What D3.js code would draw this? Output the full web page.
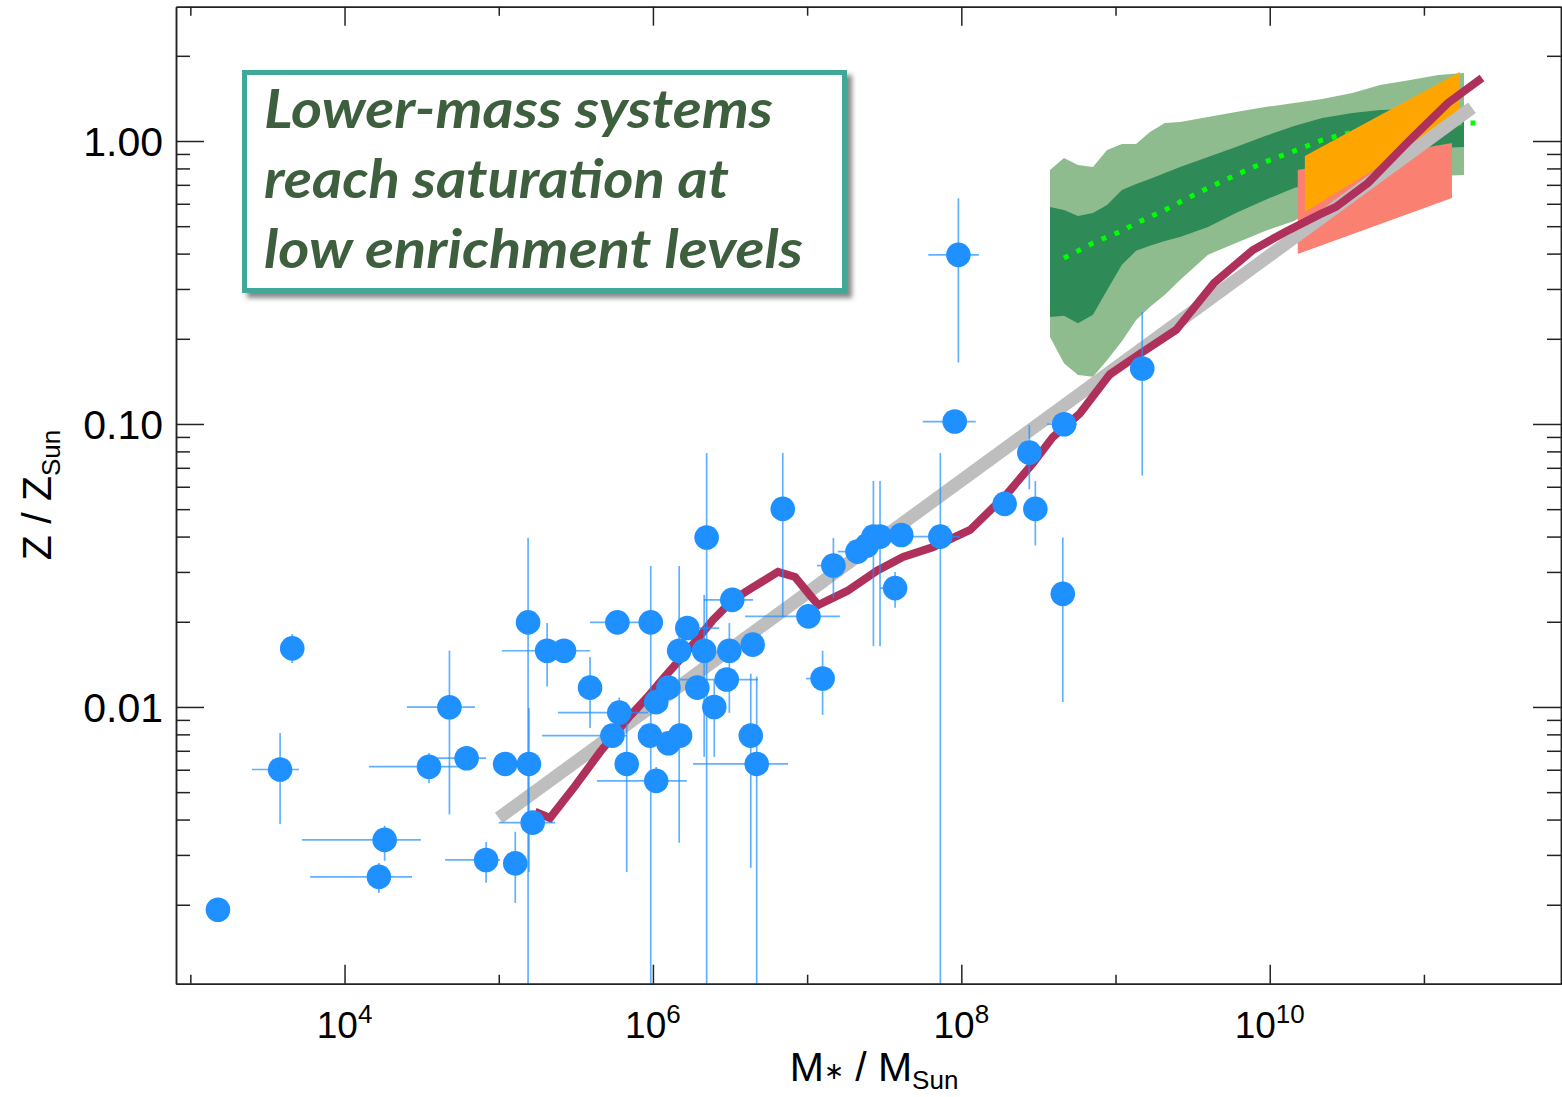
<!DOCTYPE html>
<html><head><meta charset="utf-8">
<script src="https://cdn.jsdelivr.net/npm/d3@7"></script>
<style>body{margin:0;background:#fff} svg{display:block}</style>
</head><body>
<svg id="chart" width="1562" height="1097"></svg>
<script>
// ---------- data ----------
const massObs = [1.51e3,3.82e3,4.58e3,1.67e4,1.82e4,3.53e4,4.79e4,6.19e4,8.28e4,1.10e5,1.28e5,1.55e5,1.57e5,1.66e5,2.06e5,2.65e5,3.91e5,5.46e5,5.88e5,6.05e5,6.76e5,9.57e5,9.68e5,1.05e6,1.05e6,1.26e6,1.26e6,1.48e6,1.50e6,1.67e6,1.94e6,2.15e6,2.50e6,3.01e6,3.13e6,3.27e6,4.31e6,4.44e6,4.71e6,2.23e6,6.95e6,1.02e7,1.26e7,1.48e7,2.12e7,2.44e7,2.69e7,2.97e7,3.72e7,4.08e7,7.31e7,9.06e7,9.57e7,1.91e8,2.76e8,3.02e8,4.55e8,4.64e8,1.49e9];
const zObs = [0.00192,0.00601,0.0161,0.00251,0.00339,0.00615,0.00998,0.00659,0.00288,0.00629,0.00280,0.0199,0.00629,0.00390,0.0158,0.0158,0.0117,0.00792,0.0199,0.00955,0.00629,0.00792,0.0199,0.0104,0.00548,0.00744,0.0117,0.0158,0.00792,0.0190,0.0117,0.0158,0.0100,0.0125,0.0158,0.0239,0.00792,0.0166,0.00629,0.0397,0.0501,0.0209,0.0126,0.0316,0.0354,0.0372,0.0400,0.0400,0.0263,0.0405,0.0400,0.102,0.396,0.0522,0.0792,0.0501,0.0251,0.0998,0.157];
const massLoObs = [null,2.51e3,null,5.98e3,5.30e3,1.44e4,2.54e4,3.98e4,4.49e4,null,null,null,null,1.00e5,1.05e5,null,null,1.91e5,3.91e5,2.42e5,null,null,null,null,4.34e5,null,null,null,null,1.44e6,null,null,null,1.50e6,null,2.14e6,null,null,1.82e6,null,null,3.96e6,9.85e6,1.16e7,1.58e7,null,null,null,2.97e7,null,4.87e7,5.62e7,6.11e7,null,null,null,null,3.60e8,null];
const massHiObs = [null,5.07e3,null,2.74e4,3.13e4,5.61e4,7.02e4,8.28e4,1.02e5,null,null,null,null,2.32e5,3.91e5,null,null,6.79e5,9.57e5,9.29e5,null,null,null,null,1.66e6,null,null,null,null,2.69e6,null,null,null,4.81e6,null,4.46e6,null,null,7.52e6,null,null,1.63e7,1.47e7,1.76e7,2.50e7,null,null,null,4.00e7,null,9.82e7,1.24e8,1.30e8,null,null,null,null,5.62e8,null];
const zLoObs = [null,0.00386,0.0143,0.00220,0.00286,0.00538,0.00417,null,0.00239,null,0.00203,0.0005,0.00261,null,0.0118,null,0.00843,null,null,0.00850,0.00261,null,0.0005,null,0.00497,null,null,0.00331,null,null,null,0.00666,0.00666,null,0.00953,null,0.00270,null,0.0005,0.0005,0.0208,null,0.00937,0.0243,null,null,0.0164,0.0164,0.0224,null,0.0005,null,0.165,null,0.0588,0.0372,0.0104,null,0.0657];
const zHiObs = [null,0.00809,0.0181,0.00281,0.00380,0.00687,0.0158,null,0.00333,null,0.00362,0.0396,0.00991,null,0.0198,null,0.0150,null,null,0.0108,0.00878,null,0.0315,null,0.00614,null,null,0.0315,null,null,null,0.0249,0.0125,null,0.0198,null,0.0131,null,0.0128,0.0790,0.0790,null,0.0158,0.0396,null,null,0.0629,0.0629,0.0300,null,0.0790,null,0.627,null,0.0992,0.0629,0.0397,null,0.249];

// simulation band (mass grid, 1 and 2 sigma envelopes)
const bandMass = [3.76e8,4.63e8,5.71e8,7.14e8,8.81e8,1.10e9,1.36e9,1.67e9,2.09e9,2.62e9,3.98e9,6.04e9,9.33e9,1.44e10,2.19e10,3.43e10,5.20e10,8.15e10,1.24e11,1.82e11];
const lightHi = [0.790,0.871,0.823,0.809,0.929,0.976,0.976,1.076,1.158,1.167,1.216,1.266,1.318,1.362,1.407,1.478,1.577,1.643,1.711,1.739];
const darkHi  = [0.585,0.570,0.543,0.557,0.594,0.671,0.705,0.734,0.771,0.809,0.878,0.952,1.041,1.130,1.206,1.256,1.287,1.297,1.266,1.256];
const darkLo  = [0.239,0.241,0.227,0.243,0.297,0.365,0.409,0.426,0.443,0.458,0.497,0.557,0.619,0.682,0.728,0.790,0.857,0.907,0.945,0.952];
const lightLo = [0.203,0.164,0.149,0.147,0.168,0.196,0.233,0.259,0.286,0.323,0.396,0.436,0.481,0.522,0.604,0.660,0.699,0.734,0.752,0.759];
const medMass = [4.63e8,5.71e8,7.14e8,8.81e8,1.10e9,1.36e9,1.67e9,2.09e9,2.62e9,3.98e9,6.04e9,9.33e9,1.44e10,2.19e10,3.43e10,5.20e10,8.15e10,1.24e11,1.82e11,2.38e11];
const medZ    = [0.386,0.409,0.436,0.458,0.481,0.513,0.539,0.570,0.609,0.682,0.759,0.843,0.922,1.008,1.076,1.111,1.130,1.148,1.158,1.158];

// model relation (red) and fit (grey)
const modelMass = [1.72e5,2.15e5,3.13e5,4.54e5,7.10e5,9.16e5,1.15e6,1.43e6,1.93e6,2.45e6,3.30e6,4.46e6,6.47e6,8.35e6,1.04e7,1.18e7,1.82e7,2.84e7,4.19e7,6.55e7,1.14e8,1.98e8,2.92e8,3.93e8,5.87e8,9.20e8,1.44e9,2.47e9,4.35e9,7.78e9,1.26e10,2.08e10,2.69e10,4.34e10,8.12e10,1.43e11,2.38e11];
const modelZ    = [0.00426,0.00405,0.00526,0.00693,0.00929,0.0108,0.0125,0.0143,0.0173,0.0203,0.0239,0.0265,0.0300,0.0288,0.0249,0.0229,0.0257,0.0303,0.0339,0.0367,0.0422,0.0566,0.0728,0.0900,0.109,0.150,0.177,0.215,0.315,0.412,0.477,0.548,0.585,0.711,1.008,1.362,1.670];
const fitMass = [1.0e5, 2.05e11];
const fitZ    = [0.00405, 1.31];

// observational boxes at high mass
const orangeMass = [1.69e10, 1.71e11];
const orangeLo   = [0.561, 1.216];
const orangeHi   = [0.885, 1.754];
const salmonMass = [1.52e10, 1.52e11];
const salmonLo   = [0.399, 0.629];
const salmonHi   = [0.790, 0.984];

// axis ticks
const xMajor = [1e4,1e6,1e8,1e10];
const xMajorExp = ["4","6","8","10"];
const xMinor = [1e3,1e5,1e7,1e9,1e11];
const yMajor = [0.01,0.1,1];
const yMajorLabels = ["0.01","0.10","1.00"];
const yMinor = [0.002,0.003,0.004,0.005,0.006,0.007,0.008,0.009,0.02,0.03,0.04,0.05,0.06,0.07,0.08,0.09,0.2,0.3,0.4,0.5,0.6,0.7,0.8,0.9,2];

const noteLines = ["Lower-mass systems","reach saturation at","low enrichment levels"];

// ---------- layout ----------
const P = {left:176, right:1561, top:6.7, bottom:983.7};
const svg = d3.select("#chart");
const x = d3.scaleLog().domain([Math.pow(10,2.907), Math.pow(10,11.889)]).range([P.left, P.right]);
const y = d3.scaleLog().domain([Math.pow(10,-2.978), Math.pow(10,0.4746)]).range([P.bottom, P.top]);

const defs = svg.append("defs");
defs.append("clipPath").attr("id","clip").append("rect")
  .attr("x",P.left).attr("y",P.top).attr("width",P.right-P.left).attr("height",P.bottom-P.top);
const f = defs.append("filter").attr("id","shadow").attr("x","-10%").attr("y","-10%").attr("width","130%").attr("height","130%");
f.append("feDropShadow").attr("dx",5).attr("dy",5).attr("stdDeviation",2.5).attr("flood-color","#555").attr("flood-opacity",0.7);

const g = svg.append("g").attr("clip-path","url(#clip)");
const idx = d3.range(bandMass.length);

const areaLight = d3.area().x(i=>x(bandMass[i])).y0(i=>y(lightLo[i])).y1(i=>y(lightHi[i]));
const areaDark  = d3.area().x(i=>x(bandMass[i])).y0(i=>y(darkLo[i])).y1(i=>y(darkHi[i]));
g.append("path").attr("d",areaLight(idx)).attr("fill","#8fbc8f");
g.append("path").attr("d",areaDark(idx)).attr("fill","#2e8b57");

g.append("path").attr("d", d3.line().x(i=>x(medMass[i])).y(i=>y(medZ[i]))(d3.range(medMass.length)))
  .attr("fill","none").attr("stroke","#00ff00").attr("stroke-width",5).attr("stroke-dasharray","5,9");

function quad(m, lo, hi){
  return d3.line()([[x(m[0]),y(lo[0])],[x(m[1]),y(lo[1])],[x(m[1]),y(hi[1])],[x(m[0]),y(hi[0])]]) + "Z";
}
g.append("path").attr("d",quad(salmonMass,salmonLo,salmonHi)).attr("fill","#fa8072");
g.append("path").attr("d",quad(orangeMass,orangeLo,orangeHi)).attr("fill","#ffa500");

g.append("path").attr("d", d3.line().x(i=>x(fitMass[i])).y(i=>y(fitZ[i]))([0,1]))
  .attr("fill","none").attr("stroke","#bebebe").attr("stroke-width",13);
g.append("path").attr("d", d3.line().x(i=>x(modelMass[i])).y(i=>y(modelZ[i]))(d3.range(modelMass.length)))
  .attr("fill","none").attr("stroke","#b0305c").attr("stroke-width",8).attr("stroke-linejoin","miter");

// error bars
const oi = d3.range(massObs.length);
const eb = g.append("g").attr("stroke","#1e90ff").attr("stroke-opacity",0.7).attr("stroke-width",1.7);
eb.selectAll("line.v").data(oi.filter(i=>zLoObs[i]!==null)).join("line").attr("class","v")
  .attr("x1",i=>x(massObs[i])).attr("x2",i=>x(massObs[i]))
  .attr("y1",i=>y(zLoObs[i])).attr("y2",i=>y(zHiObs[i]));
eb.selectAll("line.h").data(oi.filter(i=>massLoObs[i]!==null)).join("line").attr("class","h")
  .attr("x1",i=>x(massLoObs[i])).attr("x2",i=>x(massHiObs[i]))
  .attr("y1",i=>y(zObs[i])).attr("y2",i=>y(zObs[i]));
g.append("g").selectAll("circle").data(oi).join("circle")
  .attr("cx",i=>x(massObs[i])).attr("cy",i=>y(zObs[i])).attr("r",12.3).attr("fill","#1e90ff");

// ---------- axes ----------
function styleAxis(sel){ sel.selectAll("path,line").attr("stroke","#222").attr("stroke-width",1.5); sel.selectAll("text").remove(); }
const fmt = ()=>"";
svg.append("g").attr("transform",`translate(0,${P.bottom})`).call(d3.axisBottom(x).tickValues(xMajor).tickSizeInner(-19).tickSizeOuter(0).tickFormat(fmt)).call(styleAxis);
svg.append("g").attr("transform",`translate(0,${P.bottom})`).call(d3.axisBottom(x).tickValues(xMinor).tickSizeInner(-9).tickSizeOuter(0).tickFormat(fmt)).call(styleAxis);
svg.append("g").attr("transform",`translate(0,${P.top})`).call(d3.axisTop(x).tickValues(xMajor).tickSizeInner(-19).tickSizeOuter(0).tickFormat(fmt)).call(styleAxis);
svg.append("g").attr("transform",`translate(0,${P.top})`).call(d3.axisTop(x).tickValues(xMinor).tickSizeInner(-9).tickSizeOuter(0).tickFormat(fmt)).call(styleAxis);
svg.append("g").attr("transform",`translate(${P.left},0)`).call(d3.axisLeft(y).tickValues(yMajor).tickSizeInner(-28).tickSizeOuter(0).tickFormat(fmt)).call(styleAxis);
svg.append("g").attr("transform",`translate(${P.left},0)`).call(d3.axisLeft(y).tickValues(yMinor).tickSizeInner(-14).tickSizeOuter(0).tickFormat(fmt)).call(styleAxis);
svg.append("g").attr("transform",`translate(${P.right},0)`).call(d3.axisRight(y).tickValues(yMajor).tickSizeInner(-28).tickSizeOuter(0).tickFormat(fmt)).call(styleAxis);
svg.append("g").attr("transform",`translate(${P.right},0)`).call(d3.axisRight(y).tickValues(yMinor).tickSizeInner(-14).tickSizeOuter(0).tickFormat(fmt)).call(styleAxis);

const font = "'Liberation Sans', Arial, Helvetica, sans-serif";
// x tick labels
xMajor.forEach((v,k)=>{
  const t = svg.append("text").attr("x",x(v)).attr("y",1038).attr("text-anchor","middle")
    .attr("font-family",font).attr("font-size",37).attr("fill","#000");
  t.append("tspan").text("10");
  t.append("tspan").attr("dy",-15).attr("font-size",26).text(xMajorExp[k]);
});
// y tick labels
yMajor.forEach((v,k)=>{
  svg.append("text").attr("x",163).attr("y",y(v)).attr("dy","0.36em").attr("text-anchor","end")
    .attr("font-family",font).attr("font-size",41).attr("fill","#000").text(yMajorLabels[k]);
});
// axis titles
const xt = svg.append("text").attr("x",874).attr("y",1081).attr("text-anchor","middle")
  .attr("font-family",font).attr("font-size",41).attr("fill","#000");
xt.append("tspan").text("M");
xt.append("tspan").attr("font-size",24).attr("dy",-2).text("∗");
xt.append("tspan").attr("dy",2).text(" / M");
xt.append("tspan").attr("font-size",26).attr("dy",8).text("Sun");

const yt = svg.append("text").attr("transform","translate(51,495) rotate(-90)").attr("text-anchor","middle")
  .attr("font-family",font).attr("font-size",41).attr("fill","#000");
yt.append("tspan").text("Z / Z");
yt.append("tspan").attr("font-size",26).attr("dy",9).text("Sun");

// ---------- annotation box ----------
const box = svg.append("g");
box.append("rect").attr("x",244.5).attr("y",72.5).attr("width",600).attr("height",218)
  .attr("fill","#fff").attr("stroke","#40a898").attr("stroke-width",5).attr("filter","url(#shadow)");
const noteBase = [128,198,268];
const noteWidth = [509,465,539];
noteLines.forEach((s,k)=>{
  box.append("text").attr("x",264).attr("y",noteBase[k])
    .attr("font-family","Lato, 'Open Sans', sans-serif").attr("font-style","italic").attr("font-weight",700)
    .attr("font-size",54).attr("fill","#3e5f3e")
    .attr("textLength",noteWidth[k]).attr("lengthAdjust","spacingAndGlyphs").text(s);
});
</script>
</body></html>
